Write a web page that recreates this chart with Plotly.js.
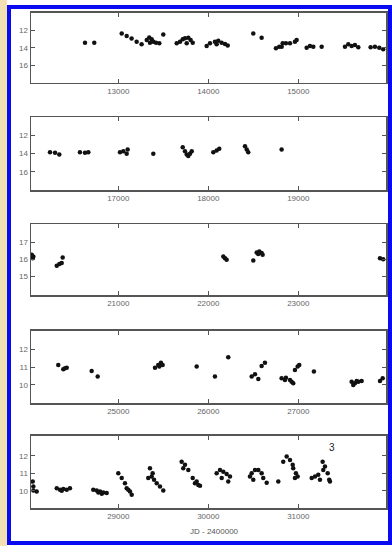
<!DOCTYPE html>
<html><head><meta charset="utf-8">
<script src="https://cdn.plot.ly/plotly-3.0.1.min.js"></script>
<style>
html,body{margin:0;padding:0;background:#fff;width:392px;height:546px;overflow:hidden;}
#strip{position:absolute;left:0;top:0;width:7px;height:546px;background:#f2dfb4;}
#frame{position:absolute;left:7px;top:5px;width:385px;height:540px;border:4px solid #0a0af0;box-sizing:border-box;background:#fff;}
#plot{position:absolute;left:0;top:0;width:392px;height:546px;}
</style></head>
<body>
<div id="strip"></div><div id="frame"></div><div id="plot"></div>
<script>
// Panel 1
const p1x=[12630,12733, 13038,13093,13148,13204,13259, 13316,13344,13371,13389,13419,13456,13500,13352, 13649,13686,13716,13741,13778,13804,13827,13760, 13982,14019,14074,14111,14148,14186,14216,14093, 14500,14593, 14752,14789,14827,14863,14908,14963,14982,14816, 15093,15130,15167,15260, 15519,15556,15593,15630,15667, 15804,15852,15900,15944];
const p1y=[13.43,13.43, 12.37,12.67,12.94,13.31,13.61, 13.12,12.82,13.04,13.31,13.43,13.49,12.48,13.43, 13.49,13.31,13.04,12.93,12.87,13.12,13.43,13.49, 13.8,13.49,13.31,13.2,13.43,13.57,13.76,13.61, 12.37,12.87, 14.06,13.88,13.49,13.49,13.49,13.31,13.12,13.88, 13.99,13.8,13.88,13.88, 13.88,13.61,13.8,13.69,13.94, 13.94,13.88,13.99,14.17];
// Panel 2
const p2x=[16241,16297,16344, 16574,16630,16667, 17019,17056,17104,17093, 17389, 17716,17741,17760,17797,17816,17778, 18056,18093,18122, 18408,18427,18444, 18815];
const p2y=[13.84,13.9,14.09, 13.84,13.9,13.84, 13.84,13.73,13.55,14.01, 14.01, 13.3,13.73,14.09,14.01,13.73,14.27, 13.84,13.65,13.47, 13.19,13.55,13.84, 13.55];
// Panel 3
const p3x=[20038,20049,20056, 20316,20345,20371,20382, 22167,22186,22204, 22500, 22538,22567,22593,22555,22604, 23908,23944];
const p3y=[16.28,16.08,16.18, 15.63,15.73,15.79,16.12, 16.18,16.08,15.98, 15.94, 16.41,16.47,16.38,16.32,16.28, 16.08,16.02];
// Panel 4
const p4x=[24333,24389,24427,24408, 24704,24771, 25408,25444,25474,25493,25456, 25871, 26074, 26222, 26482,26519,26556, 26593,26630, 26815,26852,26908,26944,26863,26926, 26963,26993,27011, 27174, 27593,27630,27667,27704,27649,27611, 27908,27938];
const p4y=[11.12,10.88,10.97,10.94, 10.78,10.47, 10.97,11.12,11.25,11.12,11.03, 11.03, 10.47, 11.55, 10.47,10.6,10.34, 11.06,11.25, 10.38,10.28,10.28,10.1,10.41,10.18, 10.84,11.03,11.12, 10.75, 10.18,10.1,10.18,10.22,10.22,10.0, 10.22,10.38];
// Panel 5
const p5x=[28049,28056,28093,28056, 28316,28352,28389,28427,28463,28371, 28722,28760,28797,28833,28871,28816,28778, 29000,29038,29074,29093,29130,29149,29111, 29333,29352,29382,29397,29427,29463,29500,29371, 29704,29741,29722,29778,29827,29852,29889,29908,29871, 30093,30130,30167,30204,30241,30149,30222, 30463,30482,30519,30556,30593,30611,30649,30500, 30778, 30833,30871,30908,30938,30944,30974,30993,30963, 31149,31186,31222,31241,31271,31297,31327,31344,31352,31278];
const p5y=[10.53,10.25,9.96,10.02, 10.15,10.06,10.1,10.06,10.15,10.0, 10.06,10.02,9.96,9.9,9.87,9.83,9.9, 11.01,10.73,10.44,10.15,9.96,9.77,10.06, 10.73,11.3,11.01,10.63,10.44,10.25,10.02,10.82, 11.67,11.49,11.3,11.2,10.73,10.44,10.34,10.29,10.53, 11.01,11.2,11.1,10.97,10.82,10.73,10.53, 10.82,11.01,11.2,11.2,11.01,10.73,10.47,10.63, 10.53, 11.67,11.96,11.77,11.49,11.3,11.01,10.82,10.73, 10.73,10.82,10.92,10.63,11.67,11.39,11.01,10.63,10.53,11.2];

const xTicks=[[13000,14000,15000],[17000,18000,19000],[21000,22000,23000],[25000,26000,27000],[29000,30000,31000]];
const yTicks=[[12,14,16],[12,14,16],[15,16,17],[10,11,12],[10,11,12]];
const xTitle="JD - 2400000";
const markLabel="3";

const xs=[p1x,p2x,p3x,p4x,p5x], ys=[p1y,p2y,p3y,p4y,p5y];
const xRanges=[[12030,15975],[16030,19975],[20030,23975],[24030,27975],[28030,31975]];
const yRanges=[[18,10],[18,10],[13.9,18.1],[8.97,13.03],[9,13.14]];
const yDomains=[[0.8485,0.9767],[0.652,0.7852],[0.4597,0.5897],[0.2614,0.3938],[0.069,0.2015]];

const traces=[];
const layout={width:392,height:546,margin:{l:0,r:0,t:0,b:0},
  paper_bgcolor:'rgba(0,0,0,0)',plot_bgcolor:'rgba(0,0,0,0)',showlegend:false,
  font:{family:'Liberation Sans, Arial, sans-serif',size:8,color:'#555'},annotations:[]};
for(let i=0;i<5;i++){
  const s=i===0?'':String(i+1);
  traces.push({x:xs[i],y:ys[i],type:'scatter',mode:'markers',xaxis:'x'+s,yaxis:'y'+s,
    marker:{color:'#111',size:4.5}});
  const ax={domain:[0.0791,0.9847],range:xRanges[i],anchor:'y'+s,showgrid:false,zeroline:false,
    showline:true,linecolor:'#555',linewidth:1.5,mirror:'ticks',ticks:'inside',ticklen:4,tickcolor:'#555',
    tickvals:xTicks[i],ticktext:xTicks[i].map(String),tickfont:{size:8,color:'#666'}};
  const ay={domain:yDomains[i],range:yRanges[i],anchor:'x'+s,showgrid:false,zeroline:false,
    showline:true,linecolor:'#555',linewidth:1.5,mirror:'ticks',ticks:'inside',ticklen:4,tickcolor:'#555',
    tickvals:yTicks[i],ticktext:yTicks[i].map(String),tickfont:{size:8,color:'#666'}};
  layout['xaxis'+s]=ax; layout['yaxis'+s]=ay;
}
layout.annotations.push({text:xTitle,xref:'paper',yref:'paper',x:0.548,y:0.014,showarrow:false,
  font:{size:8,color:'#555'}});
layout.annotations.push({text:markLabel,xref:'x5',yref:'y5',x:31370,y:12.5,showarrow:false,
  font:{size:10,color:'#222'}});
Plotly.newPlot('plot',traces,layout,{staticPlot:true});
</script>
</body></html>
